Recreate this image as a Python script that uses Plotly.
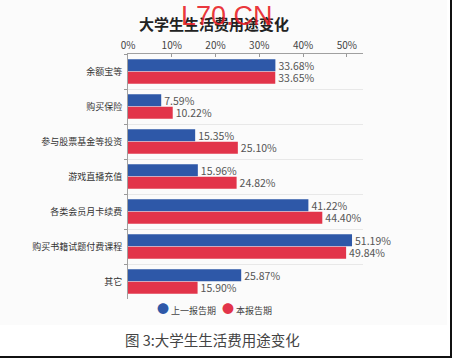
import plotly.graph_objects as go

categories = ["余额宝等", "购买保险", "参与股票基金等投资", "游戏直播充值",
              "各类会员月卡续费", "购买书籍试题付费课程", "其它"]
prev_period = [33.68, 7.59, 15.35, 15.96, 41.22, 51.19, 25.87]
this_period = [33.65, 10.22, 25.10, 24.82, 44.40, 49.84, 15.90]
series_names = ["上一报告期", "本报告期"]
tick_vals = [0, 10, 20, 30, 40, 50]
tick_text = ["0%", "10%", "20%", "30%", "40%", "50%"]

BLUE = "#2E58A8"
RED = "#E2344A"
FONT = "Noto Sans CJK SC"
W, H = 452, 358

fig = go.Figure()
for name, vals, col in [(series_names[0], prev_period, BLUE),
                        (series_names[1], this_period, RED)]:
    fig.add_trace(go.Bar(
        y=categories, x=vals, name=name, orientation="h",
        marker=dict(color=col, line=dict(width=0)),
        text=[f"{v:.2f}%" for v in vals], textposition="outside",
        constraintext="none",
        textfont=dict(size=10.5, color="#555555", family=FONT),
        cliponaxis=False, showlegend=False,
    ))

fig.update_layout(
    width=W, height=H,
    margin=dict(l=0, r=0, t=0, b=0),
    paper_bgcolor="white",
    plot_bgcolor="rgba(0,0,0,0)",
    barmode="group", bargap=0.29, bargroupgap=0.04,
    font=dict(family=FONT, color="#333333"),
    xaxis=dict(
        domain=[128 / W, 363 / W], range=[0, 53.7], side="top",
        tickvals=tick_vals, ticktext=tick_text,
        tickfont=dict(size=10, color="#444444"),
        ticks="inside", ticklen=3, tickcolor="#999999",
        showline=True, linecolor="#A0A0A0", linewidth=1,
        showgrid=False, zeroline=False, automargin=False,
    ),
    yaxis=dict(
        domain=[1 - 299 / H, 1 - 54 / H], autorange="reversed",
        tickson="boundaries", ticks="outside", ticklen=3, tickcolor="#999999",
        tickfont=dict(size=9, color="#333333"),
        showline=True, linecolor="#A0A0A0", linewidth=1,
        showgrid=True, gridcolor="#E8E8E8", gridwidth=1,
        ticklabelstandoff=3, automargin=False,
    ),
    shapes=[
        dict(type="rect", xref="paper", yref="paper", x0=0, x1=447 / W,
             y0=1 - 325 / H, y1=1, fillcolor="#FBFBFB", line=dict(width=0),
             layer="below"),
        dict(type="line", xref="paper", yref="paper", x0=0, x1=1,
             y0=1 - 357 / H, y1=1 - 357 / H, line=dict(color="#111111", width=2)),
        dict(type="line", xref="paper", yref="paper", x0=1 - 1 / W, x1=1 - 1 / W,
             y0=1 - 357 / H, y1=1, line=dict(color="#111111", width=2)),
    ],
    annotations=[
        dict(text="<b>大学生生活费用途变化</b>", xref="paper", yref="paper",
             x=214 / W, y=1 - 23 / H, showarrow=False, xanchor="center",
             yanchor="middle", font=dict(size=15, color="#222222", family=FONT)),
        dict(text="L70.CN", xref="paper", yref="paper",
             x=227 / W, y=1 - 16 / H, showarrow=False, xanchor="center",
             yanchor="middle",
             font=dict(size=27, color="rgba(232,28,36,0.9)", family="Liberation Sans")),
        dict(text=f"<span style='color:{BLUE};font-size:12px'>●</span> {series_names[0]}",
             xref="paper", yref="paper", x=155 / W, y=1 - 308 / H,
             showarrow=False, xanchor="left", yanchor="middle",
             font=dict(size=9, color="#444444", family=FONT)),
        dict(text=f"<span style='color:{RED};font-size:12px'>●</span> {series_names[1]}",
             xref="paper", yref="paper", x=220 / W, y=1 - 308 / H,
             showarrow=False, xanchor="left", yanchor="middle",
             font=dict(size=9, color="#444444", family=FONT)),
        dict(text="图 3:大学生生活费用途变化", xref="paper", yref="paper",
             x=212 / W, y=1 - 339 / H, showarrow=False, xanchor="center",
             yanchor="middle", font=dict(size=14.5, color="#444444", family=FONT)),
    ],
)

fig.write_html("out.html", config={"displayModeBar": False},
               post_script="document.body.style.margin='0';")
